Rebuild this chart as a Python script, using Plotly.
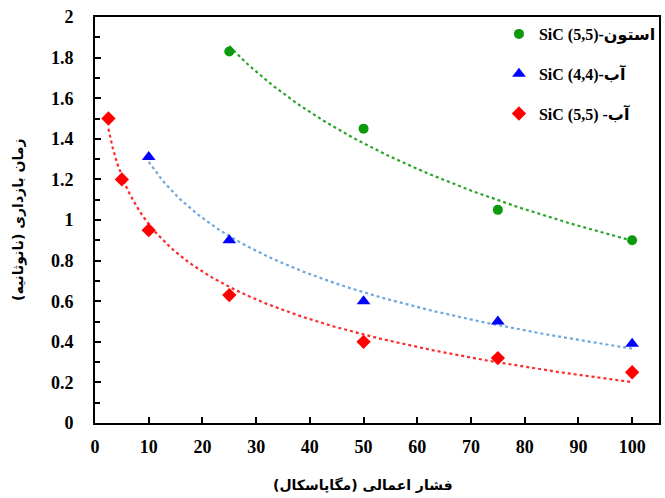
import numpy as np
import plotly.graph_objects as go

# Data
names = ["SiC (5,5)-استون", "SiC (4,4)-آب", "SiC (5,5) -آب"]
x_acetone = [25, 50, 75, 100]
y_acetone = [1.83, 1.45, 1.05, 0.90]
x_water44 = [10, 25, 50, 75, 100]
y_water44 = [1.31, 0.90, 0.60, 0.50, 0.39]
x_water55 = [2.5, 5, 10, 25, 50, 75, 100]
y_water55 = [1.50, 1.20, 0.95, 0.63, 0.40, 0.32, 0.25]
x_ticks = [0, 10, 20, 30, 40, 50, 60, 70, 80, 90, 100]
y_ticks = [0, 0.2, 0.4, 0.6, 0.8, 1, 1.2, 1.4, 1.6, 1.8, 2]

series = [
    (x_acetone, y_acetone, "#0b9a0b", "circle", 10, "#2aa52a"),
    (x_water44, y_water44, "#0000ff", "triangle-up", 12, "#6fa8dc"),
    (x_water55, y_water55, "#ff0000", "diamond", 11, "#ff2a2a"),
]

fig = go.Figure()
for i, (xs, ys, col, sym, sz, lcol) in enumerate(series):
    xs_a = np.array(xs, dtype=float)
    ys_a = np.array(ys, dtype=float)
    # logarithmic trendline (least squares y = a*ln(x) + b)
    a, b = np.polyfit(np.log(xs_a), ys_a, 1)
    xf = np.linspace(xs_a.min(), xs_a.max(), 120)
    yf = a * np.log(xf) + b
    fig.add_trace(go.Scatter(x=xf, y=yf, mode="lines",
                             line=dict(color=lcol, width=2.2, dash="dot"),
                             showlegend=False, hoverinfo="skip"))
for i, (xs, ys, col, sym, sz, lcol) in enumerate(series):
    fig.add_trace(go.Scatter(x=xs, y=ys, mode="markers", name=names[i],
                             legendgroup=f"g{i}",
                             marker=dict(color=col, symbol=sym, size=sz)))

serif = "Liberation Serif"
tick_font = dict(family=serif, size=18, color="black", weight="bold")
ar_font = dict(family="DejaVu Sans", size=14, color="black", weight="bold")

fig.update_layout(
    width=665, height=498,
    margin=dict(l=95, r=5, t=17, b=75),
    paper_bgcolor="white", plot_bgcolor="white",
    showlegend=True,
    legend=dict(x=0.715, y=1.0, xanchor="left", yanchor="top",
                bgcolor="rgba(0,0,0,0)", borderwidth=0,
                font=dict(family="Liberation Serif, DejaVu Sans", size=16, color="black", weight="bold"),
                tracegroupgap=16, traceorder="grouped", itemwidth=30),
    xaxis=dict(range=[0, 105], tickvals=x_ticks, ticktext=[str(v) for v in x_ticks],
               showline=True, mirror=True, linewidth=2, linecolor="black",
               ticks="inside", ticklen=6, tickwidth=2, tickcolor="black",
               showgrid=False, zeroline=False, tickfont=tick_font, ticklabelstandoff=6),
    yaxis=dict(range=[0, 2], tickvals=y_ticks, ticktext=[f"{v:g}" for v in y_ticks],
               showline=True, mirror=True, linewidth=2, linecolor="black",
               ticks="inside", ticklen=6, tickwidth=2, tickcolor="black",
               minor=dict(dtick=0.1, ticks="inside", ticklen=5, tickwidth=2, tickcolor="black", showgrid=False),
               showgrid=False, zeroline=False, tickfont=tick_font, ticklabelstandoff=16),
    annotations=[
        dict(text="فشار اعمالی (مگاپاسکال)", xref="paper", yref="paper",
             x=0.475, y=0, yshift=-62, xanchor="center", yanchor="middle",
             showarrow=False, font=ar_font),
        dict(text="زمان بازداری (نانوثانیه)", xref="paper", yref="paper",
             x=0, xshift=-77, y=0.5, xanchor="center", yanchor="middle",
             textangle=-90, showarrow=False, font=ar_font),
    ],
)

fig.write_html("out.html")
